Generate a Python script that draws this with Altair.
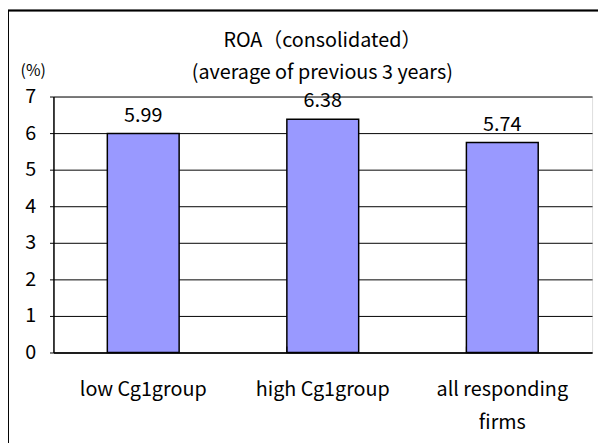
import altair as alt
import pandas as pd

categories = ["low Cg1group", "high Cg1group", "all responding firms"]
values = [5.99, 6.38, 5.74]
y_ticks = [0, 1, 2, 3, 4, 5, 6, 7]
title_lines = ["ROA（consolidated）", "(average of previous 3 years)"]

df = pd.DataFrame({"cat": categories, "val": values})
FONT = "Noto Sans CJK JP"
FS = 20

x_enc = alt.X(
    "cat:N", sort=categories, title=None,
    scale=alt.Scale(paddingInner=0.6, paddingOuter=0.3),
    axis=alt.Axis(
        labelAngle=0, labelFont=FONT, labelFontSize=FS, labelColor="black",
        labelPadding=28, ticks=False, domainColor="black", domainWidth=1.5,
        labelLineHeight=33,
        labelExpr="datum.label == 'all responding firms' ? ['all responding', 'firms'] : datum.label",
    ),
)
y_enc = alt.Y(
    "val:Q", title="(%)",
    scale=alt.Scale(domain=[0, 7], nice=False),
    axis=alt.Axis(
        values=y_ticks, labelOverlap=False, labelFont=FONT, labelFontSize=FS,
        labelColor="black", tickSize=4, tickColor="black", labelPadding=14,
        gridColor="black", gridWidth=1, domainColor="black", domainWidth=1.5,
        titleAngle=0, titleX=-21, titleY=-26, titleAlign="center",
        titleBaseline="middle", titleFont=FONT, titleFontSize=16,
        titleFontWeight="normal", titleColor="black",
    ),
)

bars = alt.Chart(df).mark_bar(
    color="#9999FF", stroke="black", strokeWidth=1.5
).encode(x=x_enc, y=y_enc)

labels = alt.Chart(df).mark_text(
    font=FONT, fontSize=FS, color="black", dy=-18
).encode(x=x_enc, y=y_enc, text=alt.Text("val:Q", format=".2f"))

sep_df = pd.DataFrame({"cat": categories[1:]})
seps = alt.Chart(sep_df).mark_rule(color="black", strokeWidth=1).encode(
    x=alt.X("cat:N", sort=categories, bandPosition=0),
    y=alt.value(259), y2=alt.value(253),
)

title_df = pd.DataFrame({"t": title_lines, "row": [0, 1]})
title1 = alt.Chart(title_df.iloc[[0]]).mark_text(
    font=FONT, fontSize=FS, color="black", baseline="middle"
).encode(x=alt.value(272), y=alt.value(-56), text="t:N")
title2 = alt.Chart(title_df.iloc[[1]]).mark_text(
    font=FONT, fontSize=FS, color="black", baseline="middle"
).encode(x=alt.value(272), y=alt.value(-24), text="t:N")

frame = alt.Chart(df).mark_rule(color="black", strokeWidth=1.5).encode(
    x=alt.value(-46), x2=alt.value(-46), y=alt.value(-87), y2=alt.value(400)
)
frame_top = alt.Chart(df).mark_rule(color="black", strokeWidth=1.5).encode(
    x=alt.value(-46), x2=alt.value(600), y=alt.value(-87), y2=alt.value(-87)
)

chart = alt.layer(bars, labels, seps, title1, title2, frame, frame_top).properties(
    width=545, height=259,
    padding={"left": 46, "top": 87, "right": 6, "bottom": 90},
    autosize=alt.AutoSizeParams(type="none"),
).configure_view(stroke="#808080", strokeWidth=1.5).configure(background="white")

chart.save("out.html", embed_options={"renderer": "svg", "actions": False})
